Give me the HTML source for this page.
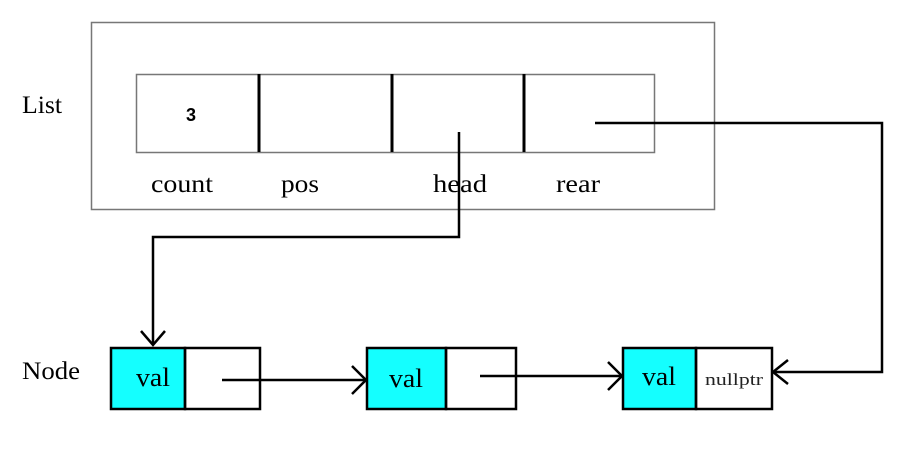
<!DOCTYPE html>
<html><head><style>body{margin:0;background:#fff}</style></head><body>
<svg width="920" height="451" xmlns="http://www.w3.org/2000/svg" font-family="Liberation Serif, serif">
<rect x="91.5" y="22.5" width="623" height="187" fill="none" stroke="#777" stroke-width="1.5"/>
<rect x="136.5" y="74.5" width="518" height="78" fill="none" stroke="#777" stroke-width="1.5"/>
<g stroke="#000" stroke-width="3">
<line x1="259" y1="74" x2="259" y2="152"/><line x1="392" y1="74" x2="392" y2="152"/><line x1="524" y1="74" x2="524" y2="152"/>
</g>
<text x="191" y="121" font-family="Liberation Sans, sans-serif" font-size="18" font-weight="bold" text-anchor="middle">3</text>
<g font-size="25" text-anchor="middle">
<text x="182" y="192" textLength="62" lengthAdjust="spacingAndGlyphs">count</text>
<text x="300" y="192" textLength="38" lengthAdjust="spacingAndGlyphs">pos</text>
<text x="460" y="192" textLength="54" lengthAdjust="spacingAndGlyphs">head</text>
<text x="578" y="192" textLength="44" lengthAdjust="spacingAndGlyphs">rear</text>
</g>
<text x="22" y="113" font-size="25" textLength="40" lengthAdjust="spacingAndGlyphs">List</text>
<text x="22" y="379" font-size="25" textLength="58" lengthAdjust="spacingAndGlyphs">Node</text>
<g fill="none" stroke="#000" stroke-width="2.5">
<polyline points="459,132 459,237 153,237 153,345"/>
<polyline points="141,331 153,345 165,331"/>
<polyline points="595,123 882,123 882,372 773,372"/>
<polyline points="788,360 773,372 788,384"/>
<line x1="222" y1="380" x2="366" y2="380"/><polyline points="352,366 366,380 352,394"/>
<line x1="480" y1="376" x2="622" y2="376"/><polyline points="608,362 622,376 608,390"/>
</g>
<g stroke="#000" stroke-width="2.5">
<rect x="111" y="348" width="74" height="61" fill="#14ffff"/><rect x="185" y="348" width="75" height="61" fill="none"/>
<rect x="367" y="348" width="79" height="61" fill="#14ffff"/><rect x="446" y="348" width="70" height="61" fill="none"/>
<rect x="623" y="348" width="73" height="61" fill="#14ffff"/><rect x="696" y="348" width="76" height="61" fill="none"/>
</g>
<g font-size="26" text-anchor="middle">
<text x="153" y="386" textLength="34" lengthAdjust="spacingAndGlyphs">val</text>
<text x="406" y="387" textLength="34" lengthAdjust="spacingAndGlyphs">val</text>
<text x="659" y="385" textLength="34" lengthAdjust="spacingAndGlyphs">val</text>
</g>
<text x="734" y="385" font-size="17" text-anchor="middle" fill="#222" textLength="58" lengthAdjust="spacingAndGlyphs">nullptr</text>
</svg>
</body></html>
